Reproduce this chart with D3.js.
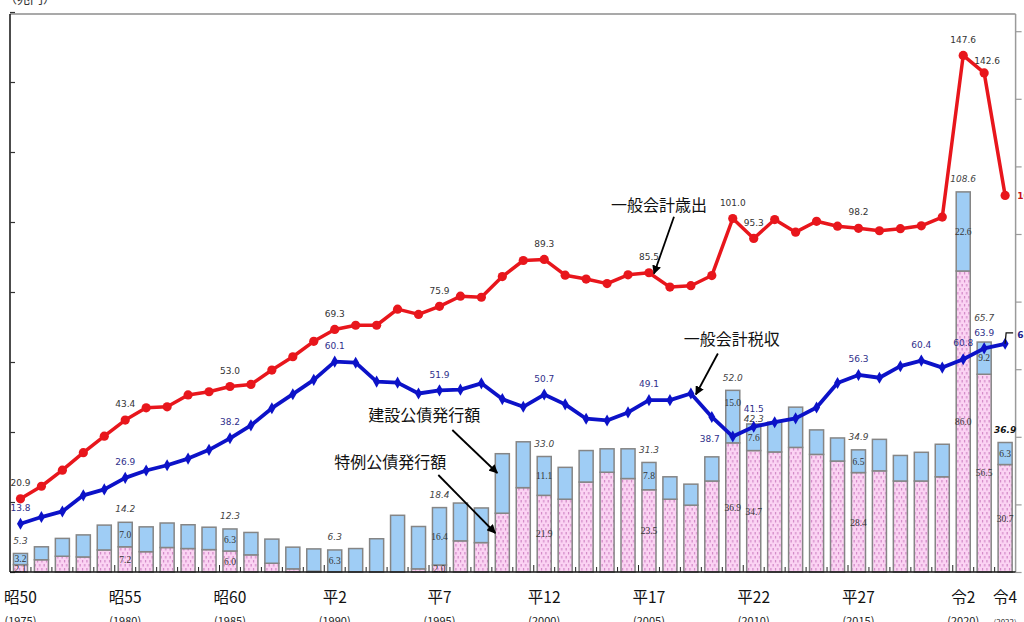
<!DOCTYPE html>
<meta charset="utf-8">
<head>
    <title>一般会計税収、歳出総額及び公債発行額の推移</title>
    <script type="text/javascript" src="https://cdn.jsdelivr.net/npm/d3@7"></script>
    <style>
        html, body { margin: 0; padding: 0; background: #fff; }
        svg { display: block; }
        .num { font-family: "DejaVu Sans", Verdana, sans-serif; font-size: 9px; }
        .seg { font-family: "Liberation Serif", "DejaVu Serif", serif; font-size: 9.5px; fill: #333; }
        .jp { font-family: "Noto Sans CJK JP", sans-serif; }
    </style>
</head>
<body>
<div id="chart"></div>
<script>
    // years and era tick labels
    var years = [1975,1976,1977,1978,1979,1980,1981,1982,1983,1984,
                 1985,1986,1987,1988,1989,1990,1991,1992,1993,1994,
                 1995,1996,1997,1998,1999,2000,2001,2002,2003,2004,
                 2005,2006,2007,2008,2009,2010,2011,2012,2013,2014,
                 2015,2016,2017,2018,2019,2020,2021,2022];
    var tickYears = [1975,1980,1985,1990,1995,2000,2005,2010,2015,2020,2022];
    var eraLabels = ["昭50","昭55","昭60","平2","平7","平12","平17","平22","平27","令2","令4"];

    // 一般会計歳出 (兆円)
    var spending = [20.9,24.5,29.1,34.1,38.8,43.4,46.9,47.2,50.6,51.5,
                    53.0,53.6,57.7,61.5,65.9,69.3,70.5,70.5,75.1,73.6,
                    75.9,78.8,78.5,84.4,89.0,89.3,84.8,83.7,82.4,84.9,
                    85.5,81.4,81.8,84.7,101.0,95.3,100.7,97.1,100.2,98.8,
                    98.2,97.5,98.1,98.9,101.4,147.6,142.6,107.6];
    // 一般会計税収 (兆円)
    var taxRevenue = [13.8,15.7,17.3,21.9,23.6,26.9,29.0,30.5,32.4,34.9,
                      38.2,41.9,46.8,50.8,54.9,60.1,59.8,54.4,54.1,51.0,
                      51.9,52.1,53.9,49.4,47.2,50.7,47.9,43.8,43.3,45.6,
                      49.1,49.1,51.0,44.3,38.7,41.5,42.8,43.9,47.0,54.0,
                      56.3,55.5,58.8,60.4,58.4,60.8,63.9,65.2];
    // 特例公債発行額 (兆円)
    var tokurei = [2.1,3.5,4.5,4.3,6.3,7.2,5.8,7.0,6.7,6.4,
                   6.0,4.9,2.5,0.9,0.2,0,0,0,0,0.9,
                   2.0,8.9,8.4,16.8,24.1,21.9,20.8,25.7,28.5,26.7,
                   23.5,20.8,19.1,26.0,36.9,34.7,34.3,35.6,33.6,31.7,
                   28.4,28.9,26.0,26.0,27.2,86.0,56.5,30.7];
    // 建設公債発行額 (兆円)
    var kensetsu = [3.2,3.7,5.1,6.3,7.1,7.0,7.1,7.0,6.8,6.4,
                    6.3,6.4,6.9,6.2,6.4,6.3,6.7,9.5,16.2,12.1,
                    16.4,10.8,9.9,17.0,13.1,11.1,9.1,9.0,6.7,8.5,
                    7.8,6.4,6.0,6.9,15.0,7.6,8.5,11.5,7.0,6.6,
                    6.5,9.0,7.3,8.2,9.3,22.6,9.2,6.3];

    // which points get value labels
    var spendLabelYears = [1975,1980,1985,1990,1995,2000,2005,2009,2010,2015,2020,2021];
    var taxLabelYears = [1975,1980,1985,1990,1995,2000,2005,2009,2010,2015,2018,2020,2021];
    var bondLabelYears = [1975,1980,1985,1990,1995,2000,2005,2009,2010,2015,2020,2021,2022];
    var bondTotalLabels = ["5.3","14.2","12.3","6.3","18.4","33.0","31.3","52.0","42.3","34.9","108.6","65.7","36.9"];
    var kensetsuLabelYears = [1975,1980,1985,1990,1995,2000,2005,2009,2010,2015,2020,2021,2022];
    var tokureiLabelYears = [1975,1980,1985,1995,2000,2005,2009,2010,2015,2020,2021,2022];

    var W = 1024, H = 622;
    var left = 10, right = 1015.6, base = 572;

    var svg = d3.select("#chart").append("svg")
        .attr("width", W).attr("height", H);

    var x = d3.scaleBand().domain(years).range([left, right])
        .paddingInner(0.33).paddingOuter(0.165);
    var cx = function(yr) { return x(yr) + x.bandwidth() / 2; };
    var y = d3.scaleLinear().domain([0, 160]).range([base, 12]);
    var yRight = d3.scaleLinear().domain([0, 80]).range([base, 31.2]);
    var idx = function(yr) { return years.indexOf(yr); };
    var f1 = d3.format(".1f");

    // pink dotted pattern for 特例公債
    var defs = svg.append("defs");
    var pat = defs.append("pattern").attr("id", "pinkdots")
        .attr("patternUnits", "userSpaceOnUse").attr("width", 4.5).attr("height", 8);
    pat.append("rect").attr("width", 4.5).attr("height", 8).attr("fill", "#fbd3f3");
    pat.append("rect").attr("x", 1).attr("y", 0).attr("width", 1).attr("height", 2.5).attr("fill", "#c978bd");
    pat.append("rect").attr("x", 3.2).attr("y", 4).attr("width", 1).attr("height", 2.5).attr("fill", "#c978bd");

    defs.append("marker").attr("id", "arrow")
        .attr("viewBox", "0 0 10 10").attr("refX", 9).attr("refY", 5)
        .attr("markerWidth", 5).attr("markerHeight", 5).attr("orient", "auto")
        .append("path").attr("d", "M0,0 L10,5 L0,10 z").attr("fill", "#000");

    // unit label (mostly cut off at top)
    svg.append("text").attr("class", "jp").attr("x", 4).attr("y", 3)
        .attr("font-size", 13).attr("fill", "#333").text("（兆円）");

    // frame
    svg.append("line").attr("x1", left).attr("x2", right).attr("y1", 14).attr("y2", 14)
        .attr("stroke", "#8c8c8c").attr("stroke-width", 1.5);

    // right axis (labels fall outside the picture)
    svg.append("g").attr("transform", "translate(" + right + ",0)")
        .call(d3.axisRight(yRight).tickValues([0,10,20,30,40,50,60,70,80]).tickSize(6).tickFormat(""))
        .call(function(g) {
            g.select(".domain").attr("d", "M0,14V" + base).attr("stroke", "#9a9a9a").attr("stroke-width", 1.5);
            g.selectAll(".tick line").attr("stroke", "#9a9a9a").attr("stroke-width", 1.2);
        });

    // bars
    var bars = svg.append("g");
    years.forEach(function(yr, i) {
        var t = tokurei[i], k = kensetsu[i];
        if (t > 0) {
            bars.append("rect").attr("x", x(yr)).attr("width", x.bandwidth())
                .attr("y", y(t)).attr("height", base - y(t))
                .attr("fill", "url(#pinkdots)").attr("stroke", "#858585").attr("stroke-width", 1.5);
        }
        bars.append("rect").attr("x", x(yr)).attr("width", x.bandwidth())
            .attr("y", y(t + k)).attr("height", y(t) - y(t + k))
            .attr("fill", "#9fcdf5").attr("stroke", "#858585").attr("stroke-width", 1.5);
    });

    // segment labels
    kensetsuLabelYears.forEach(function(yr) {
        var i = idx(yr);
        var dy = yr === 2009 ? -14 : 0;
        svg.append("text").attr("class", "seg").attr("text-anchor", "middle")
            .attr("x", cx(yr)).attr("y", y(tokurei[i] + kensetsu[i] / 2) + dy).attr("dy", "0.35em")
            .text(f1(kensetsu[i]));
    });
    tokureiLabelYears.forEach(function(yr) {
        var i = idx(yr);
        svg.append("text").attr("class", "seg").attr("text-anchor", "middle")
            .attr("x", cx(yr)).attr("y", y(tokurei[i] / 2)).attr("dy", "0.35em")
            .text(f1(tokurei[i]));
    });

    // bond total labels
    bondLabelYears.forEach(function(yr, j) {
        var i = idx(yr);
        var last = yr === 2022;
        var off = yr === 2010 ? 5 : (yr === 2021 ? 24 : 13);
        svg.append("text").attr("class", "num").attr("text-anchor", "middle")
            .attr("x", cx(yr)).attr("y", y(tokurei[i] + kensetsu[i]) - off).attr("dy", "0.35em")
            .attr("font-style", "italic")
            .attr("font-weight", last ? "bold" : "normal")
            .attr("font-size", last ? 11 : 9)
            .attr("fill", last ? "#111" : "#444")
            .text(bondTotalLabels[j]);
    });

    // axes
    svg.append("g").attr("transform", "translate(" + left + ",0)")
        .call(d3.axisLeft(y).tickValues([0,20,40,60,80,100,120,140,160]).tickSize(-5).tickFormat(""))
        .call(function(g) {
            g.select(".domain").attr("d", "M0,14V" + base).attr("stroke", "#111").attr("stroke-width", 1.5);
            g.selectAll(".tick line").attr("stroke", "#333").attr("stroke-width", 1.2);
        });

    var xb = svg.append("g");
    xb.append("line").attr("x1", left).attr("x2", right).attr("y1", base).attr("y2", base)
        .attr("stroke", "#111").attr("stroke-width", 1.5);
    years.forEach(function(yr, i) {
        if (i === 0) return;
        var bx = x(yr) - x.step() * x.paddingInner() / 2;
        xb.append("line").attr("x1", bx).attr("x2", bx)
            .attr("y1", base).attr("y2", base - (yr % 5 === 0 ? 7 : 5))
            .attr("stroke", "#222").attr("stroke-width", 1);
    });

    tickYears.forEach(function(yr, j) {
        svg.append("text").attr("class", "jp").attr("text-anchor", "middle")
            .attr("x", cx(yr)).attr("y", 603).attr("font-size", 15.5).attr("fill", "#111")
            .text(eraLabels[j]);
        svg.append("text").attr("class", "jp").attr("text-anchor", "middle")
            .attr("x", cx(yr)).attr("y", 625).attr("font-size", yr === 2022 ? 8 : 11).attr("fill", "#222")
            .text("(" + yr + ")");
    });

    // lines
    var spendLine = d3.line().x(function(d, i) { return cx(years[i]); }).y(function(d) { return y(d); });
    svg.append("path").datum(spending).attr("d", spendLine)
        .attr("fill", "none").attr("stroke", "#e8161c").attr("stroke-width", 3.5).attr("stroke-linejoin", "round");
    svg.append("g").selectAll("circle").data(spending).join("circle")
        .attr("cx", function(d, i) { return cx(years[i]); }).attr("cy", function(d) { return y(d); })
        .attr("r", 4.6).attr("fill", "#e8161c");

    svg.append("path").datum(taxRevenue).attr("d", spendLine)
        .attr("fill", "none").attr("stroke", "#0c12c8").attr("stroke-width", 3.8).attr("stroke-linejoin", "round");
    svg.append("g").selectAll("path").data(taxRevenue).join("path")
        .attr("d", d3.symbol(d3.symbolDiamond).size(42))
        .attr("transform", function(d, i) { return "translate(" + cx(years[i]) + "," + y(d) + ")"; })
        .attr("fill", "#0c12c8");

    // line value labels
    spendLabelYears.forEach(function(yr) {
        var i = idx(yr);
        var dx = yr === 2021 ? 3 : 0;
        var off = yr === 2021 ? 12 : 16;
        svg.append("text").attr("class", "num").attr("text-anchor", "middle")
            .attr("x", cx(yr) + dx).attr("y", y(spending[i]) - off).attr("dy", "0.35em")
            .attr("fill", "#333").text(f1(spending[i]));
    });
    taxLabelYears.forEach(function(yr) {
        var i = idx(yr);
        var dx = yr === 2009 ? -23 : 0;
        var off = yr === 2009 ? -2 : (yr === 2010 ? 18 : 16);
        svg.append("text").attr("class", "num").attr("text-anchor", "middle")
            .attr("x", cx(yr) + dx).attr("y", y(taxRevenue[i]) - off).attr("dy", "0.35em")
            .attr("fill", "#2e2e8a").text(f1(taxRevenue[i]));
    });

    // end labels for 2022 (cut by the picture edge)
    var iEnd = years.length - 1, xEnd = cx(years[iEnd]);
    svg.append("text").attr("class", "num").attr("x", xEnd + 12).attr("y", y(spending[iEnd])).attr("dy", "0.35em")
        .attr("font-size", 12).attr("font-weight", "bold").attr("fill", "#c8141c").text(f1(spending[iEnd]));
    svg.append("path")
        .attr("d", "M" + xEnd + "," + y(taxRevenue[iEnd]) + "L" + (xEnd + 1) + "," + (y(taxRevenue[iEnd]) - 11) + "H" + (xEnd + 8))
        .attr("fill", "none").attr("stroke", "#111").attr("stroke-width", 1.3);
    svg.append("text").attr("class", "num").attr("x", xEnd + 12).attr("y", y(taxRevenue[iEnd]) - 9).attr("dy", "0.35em")
        .attr("font-size", 12).attr("font-weight", "bold").attr("fill", "#1c1c8a").text(f1(taxRevenue[iEnd]));

    // annotations with arrows
    function note(label, tx, ty, x1, y1, x2, y2) {
        svg.append("text").attr("class", "jp").attr("text-anchor", "middle")
            .attr("x", tx).attr("y", ty).attr("dy", "0.35em").attr("font-size", 16).attr("fill", "#111")
            .text(label);
        svg.append("line").attr("x1", x1).attr("y1", y1).attr("x2", x2).attr("y2", y2)
            .attr("stroke", "#000").attr("stroke-width", 1.8).attr("marker-end", "url(#arrow)");
    }
    var p05 = [cx(2005), y(spending[idx(2005)])];
    note("一般会計歳出", p05[0] + 10, p05[1] - 67, p05[0] + 25, p05[1] - 56, p05[0] + 5, p05[1] + 1);
    var p07 = [cx(2007), y(taxRevenue[idx(2007)])];
    note("一般会計税収", p07[0] + 41, p07[1] - 54, p07[0] + 27, p07[1] - 40, p07[0] + 5, p07[1] + 1);
    var b98 = cx(1998);
    note("建設公債発行額", b98 - 78, 415, b98 - 50, 430, b98 - 5, 473);
    note("特例公債発行額", b98 - 112, 462, b98 - 64, 475, b98 - 7, 533);
</script>
</body>
</html>
